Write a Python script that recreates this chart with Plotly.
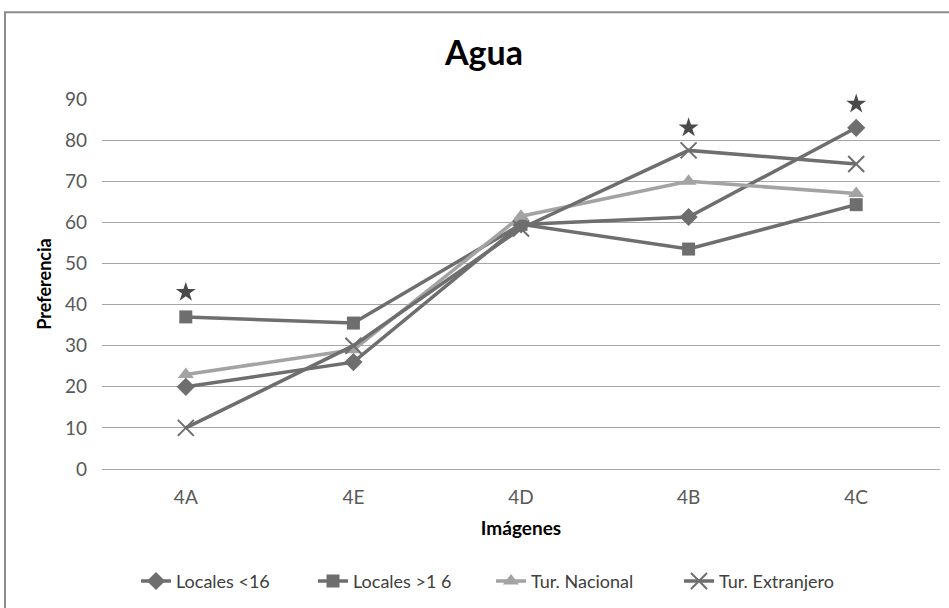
import plotly.graph_objects as go

# Data
imagenes = ["4A", "4E", "4D", "4B", "4C"]
locales_menor16 = [20, 26, 59.5, 61.3, 83]
locales_mayor16 = [37, 35.5, 59.5, 53.5, 64.3]
tur_nacional = [23, 29, 61.5, 70, 67]
tur_extranjero = [10, 30, 58.5, 77.5, 74.2]

# Significance marks
sig_cats = ["4A", "4B", "4C"]
sig_vals = [43, 83, 88.8]

FONT = "Lato, Open Sans, sans-serif"
DARK = "#6e6e6e"
LIGHT = "#a3a3a3"

# Plot area in pixels (for placing the legend entries)
PL, PR = 102, 940


def px_to_paper(px):
    return (px - PL) / (PR - PL)


fig = go.Figure()

fig.add_trace(go.Scatter(
    x=imagenes, y=locales_menor16, name="Locales <16", mode="lines+markers",
    line=dict(color=DARK, width=3.5), legend="legend",
    marker=dict(symbol="diamond", size=14, color=DARK)))
fig.add_trace(go.Scatter(
    x=imagenes, y=locales_mayor16, name="Locales >1 6", mode="lines+markers",
    line=dict(color=DARK, width=3.5), legend="legend2",
    marker=dict(symbol="square", size=13, color=DARK)))
fig.add_trace(go.Scatter(
    x=imagenes, y=tur_nacional, name="Tur. Nacional", mode="lines+markers",
    line=dict(color=LIGHT, width=3.5), legend="legend3",
    marker=dict(symbol="triangle-up", size=14, color=LIGHT)))
fig.add_trace(go.Scatter(
    x=imagenes, y=tur_extranjero, name="Tur. Extranjero", mode="lines+markers",
    line=dict(color=DARK, width=3.5), legend="legend4",
    marker=dict(symbol="x-thin", size=16, color=DARK, line=dict(color=DARK, width=2))))
fig.add_trace(go.Scatter(
    x=sig_cats, y=sig_vals, mode="markers", showlegend=False, cliponaxis=False,
    marker=dict(symbol="star", size=15, color="#4a4a4a")))

legend_style = dict(orientation="h", yanchor="middle", y=-0.3, xanchor="left",
                    font=dict(family=FONT, size=18, color="#404040"),
                    bgcolor="rgba(0,0,0,0)")
legend_starts = [136, 313, 491, 679]

fig.update_layout(
    width=949, height=608,
    margin=dict(l=PL, r=949 - PR, t=99, b=138),
    paper_bgcolor="white", plot_bgcolor="white",
    font=dict(family=FONT, color="#595959", size=19),
    title=dict(text="<b>Agua</b>", x=0.51, xanchor="center", y=0.912, yanchor="middle",
               font=dict(family=FONT, size=34, color="black")),
    showlegend=True,
    legend=dict(x=px_to_paper(legend_starts[0]), **legend_style),
    legend2=dict(x=px_to_paper(legend_starts[1]), **legend_style),
    legend3=dict(x=px_to_paper(legend_starts[2]), **legend_style),
    legend4=dict(x=px_to_paper(legend_starts[3]), **legend_style),
)

fig.update_xaxes(
    type="category", categoryorder="array", categoryarray=imagenes,
    range=[-0.5, 4.5], showgrid=False, showline=False, zeroline=False,
    ticks="", ticklabelstandoff=15,
    tickfont=dict(size=19, color="#595959"),
    title=dict(text="<b>Imágenes</b>", standoff=14,
               font=dict(family=FONT, size=19, color="black")))
fig.update_yaxes(
    range=[0, 90], dtick=10, showgrid=True, gridcolor="#a6a6a6", gridwidth=1,
    zeroline=True, zerolinecolor="#a6a6a6", zerolinewidth=1,
    showline=False, ticks="", ticklabelstandoff=14,
    tickfont=dict(size=19, color="#595959"),
    title=dict(text="<b>Preferencia</b>", standoff=8,
               font=dict(family=FONT, size=18, color="black")))

# Outer chart frame (extends past the right and bottom edges)
fig.add_shape(type="rect", xref="paper", yref="paper",
              x0=px_to_paper(5), x1=1.2, y0=-0.6, y1=(470 - 12) / 371,
              line=dict(color="#8c8c8c", width=2), fillcolor="rgba(0,0,0,0)",
              layer="below")

fig.write_html("out.html")
